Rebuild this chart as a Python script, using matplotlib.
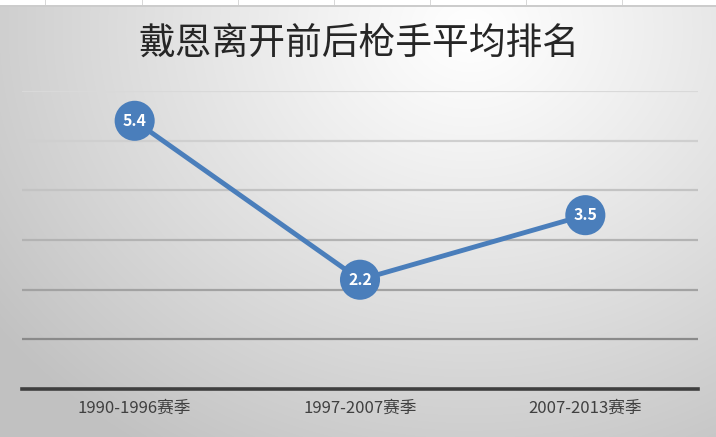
import numpy as np
import matplotlib
matplotlib.use("Agg")
import matplotlib.pyplot as plt

plt.rcParams['font.family'] = ['Noto Sans CJK SC', 'DejaVu Sans']

title = "戴恩离开前后枪手平均排名"
categories = ["1990-1996赛季", "1997-2007赛季", "2007-2013赛季"]
values = [5.4, 2.2, 3.5]
grid_levels = [1, 2, 3, 4, 5, 6]
grid_colors = ["#8a8a8a", "#a2a2a2", "#b3b3b3", "#c3c3c3", "#cfcfcf", "#d9d9d9"]

W, H = 716, 437
fig = plt.figure(figsize=(W / 100, H / 100), dpi=100)

# background radial gradient
bg = fig.add_axes([0, 0, 1, 1])
yy, xx = np.mgrid[0:H, 0:W]
d = np.sqrt(((xx - 470) / 1.0) ** 2 + ((yy - 30) / 0.85) ** 2)
g = 1.0 - 0.21 * np.clip(d / 520, 0, 1.2) ** 1.1
g = np.clip(g, 0.76, 1.0)
img = np.dstack([g, g, g])
# top white strip (spreadsheet cells)
img[0:5, :, :] = 1.0
img[5:7, :, :] = 0.80
for cx in [45, 142, 238, 334, 430, 526, 622]:
    img[0:5, cx:cx + 1, :] = 0.85
bg.imshow(img, extent=[0, W, H, 0], aspect='auto', interpolation='bilinear')
bg.set_xlim(0, W)
bg.set_ylim(H, 0)
bg.axis('off')

ax = fig.add_axes([22 / W, 1 - 389 / H, (698 - 22) / W, (389 - 91) / H])
ax.patch.set_alpha(0)
x = np.arange(len(categories))
ax.set_xlim(-0.5, len(categories) - 0.5)
ax.set_ylim(0, 6)
for lvl, c in zip(grid_levels, grid_colors):
    ax.axhline(lvl, color=c, lw=1.6, zorder=1)
for s in ['top', 'right', 'left']:
    ax.spines[s].set_visible(False)
ax.spines['bottom'].set_color('#3f3f3f')
ax.spines['bottom'].set_linewidth(2.6)
ax.set_yticks([])
ax.set_xticks(x)
ax.set_xticklabels(categories, fontsize=12, color='#404040')
ax.tick_params(axis='x', length=0, pad=8)

ax.plot(x, values, color='#4a7ebb', lw=3.5, zorder=3, solid_capstyle='round')
ax.scatter(x, values, s=34 ** 2 * 0.72, color='#4a7ebb', zorder=4, edgecolors='none')
for xi, v in zip(x, values):
    ax.text(xi, v, f"{v}", ha='center', va='center', color='white',
            fontsize=11.5, fontweight='bold', zorder=5)

fig.text(359 / W, 1 - 43 / H, title, ha='center', va='center',
         fontsize=26.5, fontweight='normal', color='#262626')

fig.savefig("out.png", dpi=100)
